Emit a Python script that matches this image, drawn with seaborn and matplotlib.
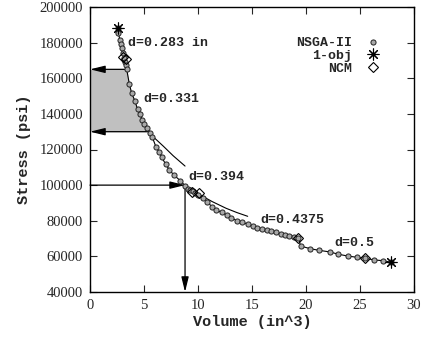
import numpy as np
import matplotlib
matplotlib.use('Agg')
import matplotlib.pyplot as plt
import seaborn as sns

# NSGA-II front (volume in^3, stress psi)
nsga_vol = [2.55, 2.62, 2.78, 2.84, 2.94, 3.03, 3.15, 3.24, 3.33, 3.4, 3.64, 3.86, 4.17, 4.4,
            4.63, 4.85, 5.03, 5.3, 5.56, 5.77, 6.1, 6.39, 6.63, 7.0, 7.35, 7.8, 8.36, 8.8,
            9.1, 9.3, 9.5, 9.7, 10.0, 10.5, 10.86, 11.26, 11.7, 12.2, 12.65, 13.1, 13.6,
            14.1, 14.6, 15.06, 15.5, 15.9, 16.35, 16.8, 17.2, 17.65, 18.05, 18.45, 18.9,
            19.3, 19.5, 20.4, 21.2, 22.2, 23.0, 23.85, 24.7, 25.5, 26.3, 27.1, 27.9]
nsga_stress = [188000, 185300, 181500, 179100, 176800, 174000, 171500, 169300, 167500, 165000,
               156800, 151600, 147100, 142600, 139800, 136500, 134300, 131900, 129500, 126900,
               121600, 118800, 115600, 111900, 108500, 105500, 102500, 99700, 98000, 97000,
               96500, 95500, 94500, 93000, 90700, 88000, 86000, 84700, 83200, 81700, 80000,
               79200, 78100, 77100, 76200, 75400, 74600, 74100, 73500, 72600, 72000, 71600,
               71100, 70500, 65800, 64300, 63400, 62500, 61200, 60200, 59500, 58900, 58000,
               57600, 56700]

# single objective optima
obj1_vol = [2.55, 27.9]
obj1_stress = [188000, 56700]

# NCM points
ncm_vol = [3.08, 3.33, 9.4, 10.1, 19.3, 25.5]
ncm_stress = [172100, 170700, 96000, 95600, 70500, 58900]

# constant-diameter curves
d331_vol = [5.4, 6.0, 6.8, 7.7, 8.8]
d331_stress = [130000, 126300, 121800, 116500, 110700]
d394_vol = [10.2, 11.3, 12.6, 13.6, 14.6]
d394_stress = [94500, 90800, 87000, 84600, 82500]

# diameter labels
lbl_text = ['d=0.283 in', 'd=0.331', 'd=0.394', 'd=0.4375', 'd=0.5']
lbl_vol = [3.5, 4.9, 9.1, 15.8, 22.6]
lbl_stress = [180000, 148400, 104800, 80400, 67500]

# shaded band and guide arrows
band_lo, band_hi = 130000, 165000
pick_vol, pick_stress = 8.8, 100000

sns.set_style('ticks')
plt.rcParams['font.family'] = ['Liberation Serif', 'DejaVu Serif']
mono = {'family': 'Liberation Mono', 'weight': 'bold'}

fig = plt.figure(figsize=(4.22, 3.41), dpi=100)
ax = fig.add_axes([90 / 422, 1 - 292 / 341, 324 / 422, 285 / 341])

# gray band from axis to the front
yy = np.linspace(band_lo, band_hi, 50)
xx = np.interp(yy, nsga_stress[::-1], nsga_vol[::-1])
ax.fill_betweenx(yy, 0, xx, color='#c0c0c0', lw=0, zorder=1)

arr = dict(arrowstyle='-|>,head_length=0.9,head_width=0.22', color='black', lw=0.9,
           shrinkA=0, shrinkB=0)
ax.annotate('', xy=(0, band_hi), xytext=(np.interp(band_hi, nsga_stress[::-1], nsga_vol[::-1]), band_hi),
            arrowprops=arr, zorder=2)
ax.annotate('', xy=(0, band_lo), xytext=(np.interp(band_lo, nsga_stress[::-1], nsga_vol[::-1]), band_lo),
            arrowprops=arr, zorder=2)
ax.annotate('', xy=(pick_vol, pick_stress), xytext=(0, pick_stress), arrowprops=arr, zorder=2)
ax.annotate('', xy=(pick_vol, 40000), xytext=(pick_vol, pick_stress), arrowprops=arr, zorder=2)

sns.lineplot(x=d331_vol, y=d331_stress, color='black', lw=0.8, sort=False, ax=ax)
sns.lineplot(x=d394_vol, y=d394_stress, color='black', lw=0.8, sort=False, ax=ax)

ax.plot(nsga_vol, nsga_stress, color='black', lw=0.8, zorder=3)
ax.plot(nsga_vol, nsga_stress, ls='none', marker='o', ms=3.7, mfc='#a8a8a8', mec='#222222',
        mew=0.7, zorder=4, label='NSGA-II')
ax.plot(obj1_vol, obj1_stress, ls='none', marker=(8, 2, 0), ms=8.5, mec='black', mew=0.8,
        zorder=5, label='1-obj')
ax.plot(ncm_vol, ncm_stress, ls='none', marker='D', ms=5.5, mfc='none', mec='black', mew=0.8,
        zorder=5, label='NCM')

for t, xv, yv in zip(lbl_text, lbl_vol, lbl_stress):
    ax.text(xv, yv, t, fontdict=mono, fontsize=9.5, va='center', ha='left', zorder=6)

ax.set_xlim(0, 30)
ax.set_ylim(40000, 200000)
ax.set_xticks(range(0, 31, 5))
ax.set_yticks(range(40000, 200001, 20000))
ax.tick_params(direction='in', length=5, width=0.8, top=True, right=True,
               labeltop=False, labelright=False, labelsize=10.5, pad=5)
for s in ax.spines.values():
    s.set_linewidth(1.0)
    s.set_color('black')
ax.set_xlabel('Volume (in^3)', fontdict=mono, fontsize=11, labelpad=2)
ax.set_ylabel('Stress (psi)', fontdict=mono, fontsize=11, labelpad=6)

leg = ax.legend(loc='upper right', bbox_to_anchor=(0.915, 0.895), frameon=False, markerfirst=False,
                borderaxespad=0, borderpad=0, labelspacing=0.05, handletextpad=0.6,
                prop={'family': 'Liberation Mono', 'weight': 'bold', 'size': 9.5})

fig.savefig('out.png', dpi=100)
